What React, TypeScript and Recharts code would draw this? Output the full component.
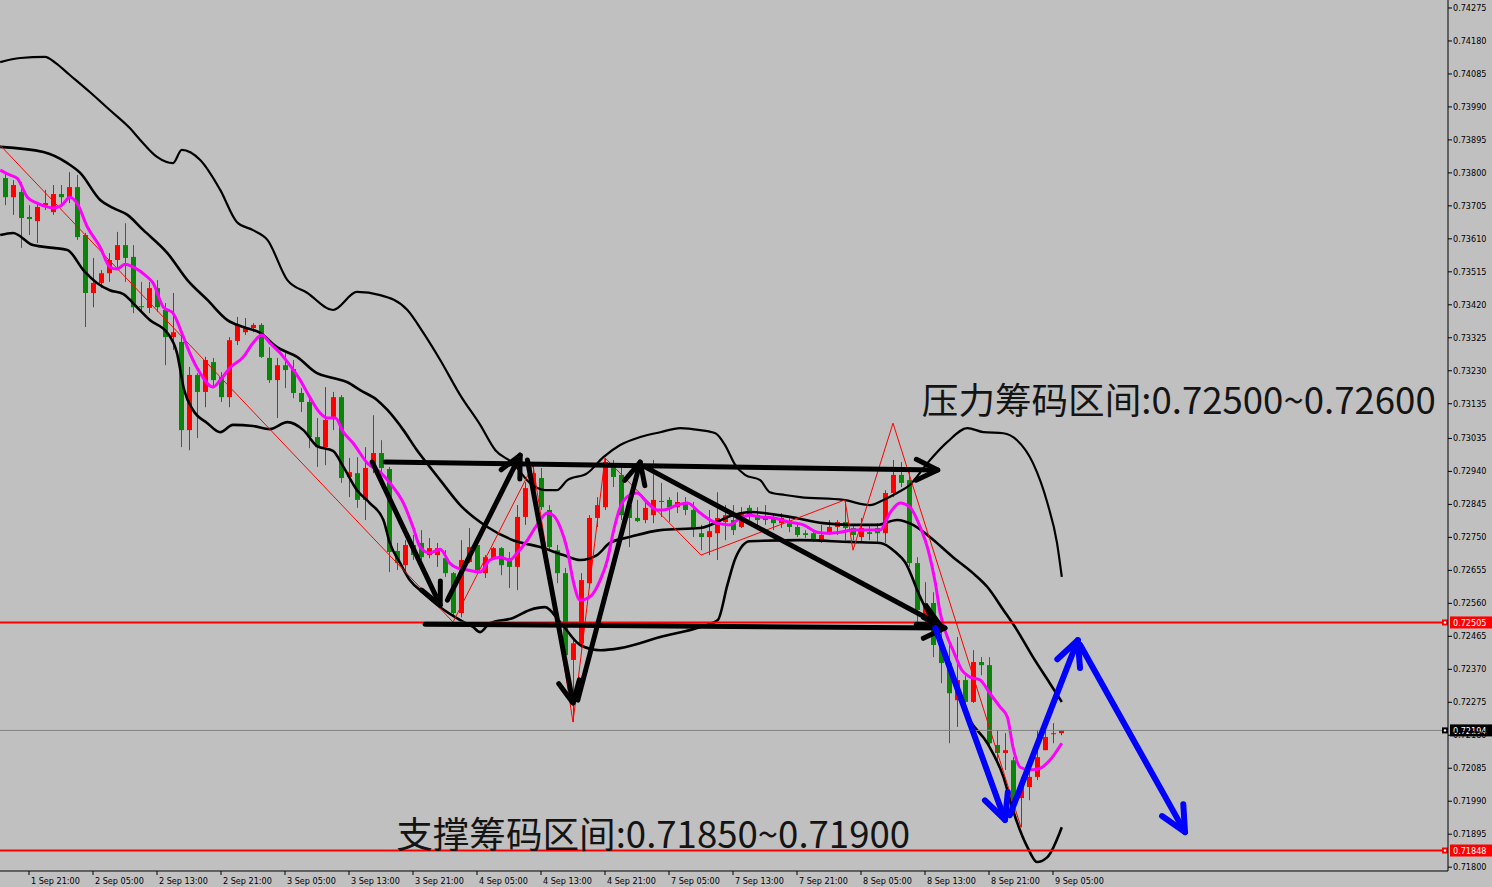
import React from 'react';
import { ComposedChart, Bar, Line, XAxis, YAxis, ReferenceLine, ReferenceDot } from 'recharts';

// ---------- candle data (hourly, 1 Sep 18:00 .. 9 Sep 06:00) ----------
const candleOpen = [
  0.73785, 0.73730, 0.73745, 0.73673, 0.73661, 0.73707, 0.73687, 0.73739, 0.73730, 0.73759,
  0.73621, 0.73454, 0.73483, 0.73511, 0.73549, 0.73592, 0.73558, 0.73416, 0.73411, 0.73468,
  0.73405, 0.73327, 0.73313, 0.73059, 0.73218, 0.73169, 0.73255, 0.73212, 0.73154, 0.73316,
  0.73341, 0.73353, 0.73362, 0.73267, 0.73203, 0.73246, 0.73235, 0.73166, 0.73140, 0.73039,
  0.73010, 0.73097, 0.73154, 0.72924, 0.72935, 0.72858, 0.72950, 0.72993, 0.72947, 0.72711,
  0.72670, 0.72728, 0.72734, 0.72699, 0.72699, 0.72690, 0.72647, 0.72532, 0.72679, 0.72728,
  0.72647, 0.72690, 0.72719, 0.72690, 0.72665, 0.72809, 0.72886, 0.72921, 0.72829, 0.72713,
  0.72647, 0.72397, 0.72445, 0.72618, 0.72806, 0.72837, 0.72958, 0.72930, 0.72843, 0.72806,
  0.72800, 0.72814, 0.72855, 0.72858, 0.72837, 0.72849, 0.72829, 0.72762, 0.72751, 0.72762,
  0.72794, 0.72800, 0.72780, 0.72835, 0.72814, 0.72809, 0.72803, 0.72791, 0.72791, 0.72780,
  0.72762, 0.72762, 0.72737, 0.72765, 0.72780, 0.72794, 0.72777, 0.72751, 0.72765, 0.72777,
  0.72762, 0.72878, 0.72930, 0.72915, 0.72676, 0.72520, 0.72561, 0.72440, 0.72388, 0.72281,
  0.72339, 0.72276, 0.72391, 0.72382, 0.72152, 0.72129, 0.72108, 0.71999, 0.72031, 0.72060,
  0.72137, 0.72183, 0.72186,
];
const candleHigh = [
  0.73800, 0.73779, 0.73774, 0.73707, 0.73713, 0.73751, 0.73765, 0.73765, 0.73802, 0.73794,
  0.73627, 0.73555, 0.73520, 0.73569, 0.73630, 0.73655, 0.73592, 0.73486, 0.73486, 0.73491,
  0.73425, 0.73454, 0.73339, 0.73241, 0.73223, 0.73270, 0.73267, 0.73226, 0.73327, 0.73385,
  0.73382, 0.73367, 0.73367, 0.73298, 0.73267, 0.73281, 0.73261, 0.73180, 0.73151, 0.73094,
  0.73183, 0.73169, 0.73160, 0.72979, 0.72981, 0.73010, 0.73102, 0.73030, 0.72953, 0.72734,
  0.72742, 0.72757, 0.72771, 0.72748, 0.72734, 0.72713, 0.72650, 0.72742, 0.72777, 0.72734,
  0.72699, 0.72722, 0.72722, 0.72708, 0.72843, 0.72909, 0.72958, 0.72950, 0.72843, 0.72728,
  0.72662, 0.72463, 0.72647, 0.72814, 0.72866, 0.72979, 0.72973, 0.72958, 0.72872, 0.72858,
  0.72858, 0.72973, 0.72907, 0.72866, 0.72880, 0.72866, 0.72852, 0.72786, 0.72829, 0.72880,
  0.72843, 0.72843, 0.72837, 0.72843, 0.72837, 0.72843, 0.72820, 0.72820, 0.72806, 0.72794,
  0.72771, 0.72765, 0.72786, 0.72800, 0.72800, 0.72858, 0.72786, 0.72806, 0.72786, 0.72791,
  0.72886, 0.72973, 0.72967, 0.72938, 0.72693, 0.72621, 0.72592, 0.72503, 0.72445, 0.72463,
  0.72353, 0.72425, 0.72405, 0.72405, 0.72195, 0.72186, 0.72117, 0.72060, 0.72100, 0.72195,
  0.72215, 0.72215, 0.72195,
];
const candleLow = [
  0.73707, 0.73679, 0.73584, 0.73621, 0.73598, 0.73693, 0.73679, 0.73707, 0.73713, 0.73607,
  0.73356, 0.73413, 0.73468, 0.73486, 0.73520, 0.73486, 0.73396, 0.73396, 0.73396, 0.73399,
  0.73246, 0.73290, 0.73010, 0.73001, 0.73036, 0.73125, 0.73180, 0.73140, 0.73125, 0.73304,
  0.73333, 0.73341, 0.73267, 0.73195, 0.73094, 0.73180, 0.73151, 0.73111, 0.73007, 0.72953,
  0.72958, 0.73059, 0.72907, 0.72866, 0.72835, 0.72800, 0.72935, 0.72935, 0.72650, 0.72656,
  0.72647, 0.72685, 0.72685, 0.72690, 0.72665, 0.72636, 0.72520, 0.72520, 0.72676, 0.72647,
  0.72633, 0.72685, 0.72641, 0.72604, 0.72598, 0.72786, 0.72872, 0.72829, 0.72713, 0.72618,
  0.72397, 0.72218, 0.72431, 0.72604, 0.72780, 0.72829, 0.72895, 0.72800, 0.72722, 0.72794,
  0.72791, 0.72791, 0.72809, 0.72794, 0.72820, 0.72814, 0.72751, 0.72713, 0.72699, 0.72685,
  0.72742, 0.72757, 0.72777, 0.72800, 0.72771, 0.72786, 0.72771, 0.72777, 0.72765, 0.72751,
  0.72748, 0.72737, 0.72734, 0.72757, 0.72757, 0.72742, 0.72742, 0.72734, 0.72742, 0.72734,
  0.72734, 0.72866, 0.72895, 0.72665, 0.72503, 0.72492, 0.72405, 0.72330, 0.72157, 0.72204,
  0.72273, 0.72273, 0.72353, 0.72146, 0.72100, 0.72080, 0.71985, 0.71915, 0.71993, 0.72051,
  0.72137, 0.72157, 0.72180,
];
const candleClose = [
  0.73730, 0.73765, 0.73670, 0.73667, 0.73702, 0.73713, 0.73739, 0.73730, 0.73759, 0.73615,
  0.73454, 0.73483, 0.73511, 0.73549, 0.73592, 0.73555, 0.73413, 0.73413, 0.73468, 0.73413,
  0.73327, 0.73341, 0.73059, 0.73218, 0.73169, 0.73261, 0.73203, 0.73154, 0.73318, 0.73362,
  0.73353, 0.73362, 0.73270, 0.73203, 0.73246, 0.73232, 0.73166, 0.73140, 0.73039, 0.73010,
  0.73088, 0.73154, 0.72921, 0.72938, 0.72858, 0.72950, 0.72993, 0.72950, 0.72708, 0.72676,
  0.72728, 0.72699, 0.72693, 0.72719, 0.72719, 0.72647, 0.72532, 0.72685, 0.72722, 0.72656,
  0.72693, 0.72719, 0.72670, 0.72665, 0.72809, 0.72892, 0.72935, 0.72837, 0.72722, 0.72647,
  0.72411, 0.72445, 0.72627, 0.72806, 0.72843, 0.72967, 0.72924, 0.72814, 0.72806, 0.72797,
  0.72835, 0.72858, 0.72852, 0.72837, 0.72852, 0.72829, 0.72777, 0.72751, 0.72768, 0.72806,
  0.72814, 0.72771, 0.72823, 0.72814, 0.72800, 0.72800, 0.72791, 0.72806, 0.72780, 0.72757,
  0.72757, 0.72745, 0.72757, 0.72780, 0.72794, 0.72777, 0.72757, 0.72777, 0.72760, 0.72762,
  0.72878, 0.72930, 0.72907, 0.72676, 0.72541, 0.72561, 0.72440, 0.72388, 0.72301, 0.72339,
  0.72276, 0.72391, 0.72382, 0.72157, 0.72129, 0.72137, 0.71993, 0.72042, 0.72060, 0.72117,
  0.72175, 0.72186, 0.72194,
];

// ---------- indicator lines: [bar index, price] ----------
const bbUpper: [number, number][] = [
  [-0.6, 0.74119], [1.9, 0.74131], [5, 0.74134], [6.3, 0.74117], [8.1, 0.74082], [10.6, 0.74033],
  [13.1, 0.73981], [15.6, 0.73929], [16.9, 0.73895], [19, 0.73846], [21, 0.73828], [22.1, 0.73866],
  [24.4, 0.73837], [26.9, 0.73751], [29, 0.73658], [31, 0.73635], [32.8, 0.73607], [35.3, 0.73491],
  [37.8, 0.73454], [41, 0.73405], [44, 0.73457], [46.9, 0.73448], [50.3, 0.73405], [52.3, 0.73339],
  [54.4, 0.73261], [56.9, 0.73160], [59.4, 0.73074], [61.3, 0.73001], [63.5, 0.72964], [65.6, 0.72907],
  [67.5, 0.72886], [69, 0.72886], [70.3, 0.72915], [72.8, 0.72935], [74.8, 0.72981], [76.9, 0.73016],
  [79.4, 0.73039], [81.9, 0.73053], [84.4, 0.73065], [86.9, 0.73059], [88.8, 0.73050], [90, 0.73016],
  [91.3, 0.72958], [92.5, 0.72930], [94.4, 0.72915], [95.6, 0.72880], [97.5, 0.72872], [99.4, 0.72866],
  [104.8, 0.72858], [108.1, 0.72843], [109.8, 0.72858], [111.5, 0.72878], [113.1, 0.72901], [115.3, 0.72964],
  [117.8, 0.73025], [120.3, 0.73065], [122.3, 0.73053], [124.8, 0.73050], [126.5, 0.73030], [128.5, 0.72964],
  [130.3, 0.72849], [131.5, 0.72734], [132.1, 0.72636],
];
const bbMiddle: [number, number][] = [
  [-0.6, 0.73875], [4.8, 0.73860], [7.8, 0.73828], [9.4, 0.73800], [11.9, 0.73722], [13.5, 0.73699],
  [15.3, 0.73679], [17.3, 0.73635], [20.3, 0.73569], [22.8, 0.73491], [25.3, 0.73434], [27.8, 0.73376],
  [29.8, 0.73356], [31.9, 0.73339], [34, 0.73298], [36.5, 0.73270], [39, 0.73223], [41, 0.73209],
  [42.8, 0.73197], [44.4, 0.73174], [46.5, 0.73146], [47.8, 0.73117], [49.8, 0.73059], [51.5, 0.73001],
  [53.1, 0.72953], [54.4, 0.72915], [56.9, 0.72843], [60.3, 0.72780], [63.5, 0.72742], [66.9, 0.72722],
  [69.8, 0.72699], [71.9, 0.72685], [74, 0.72699], [75.6, 0.72734], [78.1, 0.72751], [81.9, 0.72771],
  [86.9, 0.72777], [91, 0.72814], [93.1, 0.72823], [98.1, 0.72809], [102.3, 0.72791], [105.6, 0.72786],
  [109, 0.72786], [111.5, 0.72800], [113.5, 0.72786], [115.6, 0.72751], [118.5, 0.72693], [121, 0.72647],
  [122.8, 0.72607], [124.8, 0.72541], [126.5, 0.72483], [128.5, 0.72405], [130.6, 0.72330], [132.1, 0.72276],
];
const bbLower: [number, number][] = [
  [-0.6, 0.73621], [1, 0.73627], [3.5, 0.73592], [6, 0.73584], [7.8, 0.73578], [9.8, 0.73520],
  [11.5, 0.73483], [13.1, 0.73462], [14.8, 0.73451], [16.5, 0.73413], [18.1, 0.73376], [20.3, 0.73339],
  [21.5, 0.73281], [22.4, 0.73174], [23.5, 0.73117], [25.3, 0.73079], [26.9, 0.73053], [28.5, 0.73074],
  [31, 0.73071], [33.1, 0.73062], [35.3, 0.73082], [37.3, 0.73059], [39, 0.73013], [41, 0.72999],
  [42.3, 0.72953], [44, 0.72886], [45.6, 0.72849], [47.3, 0.72800], [48.1, 0.72734], [49.4, 0.72676],
  [50.6, 0.72627], [52.3, 0.72590], [54.4, 0.72549], [56.9, 0.72512], [58.5, 0.72492], [59.4, 0.72477],
  [60.6, 0.72503], [63.5, 0.72518], [65.6, 0.72541], [67.5, 0.72549], [69.4, 0.72506], [71.9, 0.72440],
  [74.4, 0.72425], [76.9, 0.72431], [81.9, 0.72463], [86.9, 0.72492], [89.1, 0.72512], [90.3, 0.72613],
  [91.3, 0.72690], [93.1, 0.72739], [99.4, 0.72742], [105.6, 0.72737], [109.4, 0.72734], [111.3, 0.72708],
  [112.5, 0.72679], [114.4, 0.72578], [115.6, 0.72520], [118.1, 0.72368], [120.6, 0.72224], [122.8, 0.72157],
  [124.8, 0.72060], [126, 0.71964], [127.8, 0.71858], [129, 0.71815], [130.3, 0.71829], [132.1, 0.71915],
];
const maLine: [number, number][] = [
  [-0.6, 0.73808], [0.6, 0.73794], [1.5, 0.73785], [2.8, 0.73730], [4, 0.73713], [5.3, 0.73702],
  [6, 0.73699], [7.1, 0.73707], [8.1, 0.73730], [9, 0.73713], [10.3, 0.73644], [11.9, 0.73586],
  [13.1, 0.73529], [14, 0.73523], [15, 0.73537], [16, 0.73529], [17.8, 0.73500], [18.5, 0.73483],
  [19.8, 0.73413], [21, 0.73396], [22.1, 0.73339], [23.1, 0.73281], [24.4, 0.73223], [26, 0.73183],
  [26.9, 0.73203], [28.1, 0.73238], [29.8, 0.73270], [31, 0.73310], [32.1, 0.73333], [33.1, 0.73310],
  [34.4, 0.73281], [35.6, 0.73246], [36.9, 0.73203], [38.1, 0.73154], [39.4, 0.73108], [40.3, 0.73094],
  [41.3, 0.73094], [42.3, 0.73053], [43.5, 0.73022], [45.3, 0.72964], [46.9, 0.72938], [48.1, 0.72907],
  [49.8, 0.72849], [51, 0.72780], [51.9, 0.72722], [53.1, 0.72705], [54.4, 0.72716], [55.6, 0.72676],
  [56.5, 0.72662], [57.8, 0.72656], [59.4, 0.72650], [60.6, 0.72685], [61.9, 0.72693], [63.1, 0.72685],
  [64, 0.72705], [65.3, 0.72742], [66.5, 0.72786], [67.8, 0.72820], [68.5, 0.72814], [69.4, 0.72780],
  [70.3, 0.72713], [71, 0.72627], [71.9, 0.72569], [73.1, 0.72578], [74.4, 0.72627], [75.3, 0.72685],
  [76, 0.72762], [76.9, 0.72837], [78.1, 0.72872], [79, 0.72878], [80.3, 0.72849], [81.5, 0.72829],
  [82.3, 0.72829], [84, 0.72843], [85.3, 0.72849], [86.9, 0.72820], [89, 0.72791], [90.6, 0.72786],
  [91.9, 0.72806], [93.1, 0.72814], [94.4, 0.72809], [96, 0.72806], [98.1, 0.72794], [99.8, 0.72786],
  [101.5, 0.72765], [102.8, 0.72762], [104.4, 0.72765], [106, 0.72771], [109.4, 0.72771], [110.6, 0.72820],
  [111.9, 0.72849], [113.1, 0.72837], [114.4, 0.72780], [115.4, 0.72713], [116.3, 0.72618], [116.9, 0.72532],
  [117.8, 0.72463], [118.5, 0.72425], [119.6, 0.72368], [120.6, 0.72348], [121.9, 0.72339], [123.1, 0.72301],
  [124.4, 0.72261], [125.3, 0.72232], [126, 0.72146], [126.9, 0.72088], [128.1, 0.72080], [129.4, 0.72085],
  [130.6, 0.72108], [132.1, 0.72157],
];
const zigzag: [number, number][] = [
  [-1, 0.73889], [56, 0.72506], [66, 0.72958], [71, 0.72218], [75, 0.72979], [87, 0.72699],
  [105, 0.72858], [106, 0.72713], [111, 0.73079], [127, 0.71915],
];

// ---------- annotations (bar index, price) ----------
const blackArrows: [number, number, number, number][] = [
  [45.9, 0.72967, 54.4, 0.72555],
  [55.3, 0.72569, 64.4, 0.72987],
  [65.3, 0.72973, 71.0, 0.72273],
  [71.6, 0.72281, 79.4, 0.72967],
  [80.0, 0.72953, 116.9, 0.72497],
  [47.5, 0.72967, 116.6, 0.72944],
  [52.5, 0.72500, 117.5, 0.72489],
];
const blueArrows: [number, number, number, number][] = [
  [116.3, 0.72489, 125.0, 0.71936],
  [125.6, 0.71950, 134.1, 0.72454],
  [134.4, 0.72440, 147.5, 0.71901],
];
const resistanceText = '压力筹码区间:0.72500~0.72600';
const supportText = '支撑筹码区间:0.71850~0.71900';
const resistanceAnchor = { i: 114.6, p: 0.73105 };
const supportAnchor = { i: 48.9, p: 0.71855 };

const resistanceLevel = 0.72505;
const supportLevel = 0.71848;
const currentPrice = 0.72194;

// ---------- axes ----------
const yTicks = [
  0.74275, 0.74180, 0.74085, 0.73990, 0.73895, 0.73800, 0.73705, 0.73610, 0.73515, 0.73420,
  0.73325, 0.73230, 0.73135, 0.73035, 0.72940, 0.72845, 0.72750, 0.72655, 0.72560, 0.72465,
  0.72370, 0.72275, 0.72180, 0.72085, 0.71990, 0.71895, 0.71800,
];
const xTickIdx = [3, 11, 19, 27, 35, 43, 51, 59, 67, 75, 83, 91, 99, 107, 115, 123, 131];
const xTickLabels = [
  '1 Sep 21:00', '2 Sep 05:00', '2 Sep 13:00', '2 Sep 21:00', '3 Sep 05:00', '3 Sep 13:00',
  '3 Sep 21:00', '4 Sep 05:00', '4 Sep 13:00', '4 Sep 21:00', '7 Sep 05:00', '7 Sep 13:00',
  '7 Sep 21:00', '8 Sep 05:00', '8 Sep 13:00', '8 Sep 21:00', '9 Sep 05:00',
];

const candles = candleOpen.map((o, i) => ({
  i, o, h: candleHigh[i], l: candleLow[i], c: candleClose[i],
}));
const toPts = (arr: [number, number][]) => arr.map(([i, v]) => ({ i, v }));

const AXIS_FONT = "Tahoma, 'DejaVu Sans Condensed', 'Liberation Sans', Arial, sans-serif";
const RED = '#FF0000';
const GREEN = '#0A850A';

const Candle = (props: any) => {
  const { x, y, width, height, payload } = props;
  if (!payload || height == null) return null;
  const { o, h, l, c } = payload;
  const span = h - l || 1e-9;
  const py = (v: number) => y + ((h - v) / span) * height;
  const cx = Math.round(x + width / 2);
  const up = c >= o;
  const color = up ? RED : GREEN;
  const top = py(Math.max(o, c));
  const bot = py(Math.min(o, c));
  const bh = Math.max(1, bot - top);
  return (
    <g>
      <line x1={cx + 0.5} x2={cx + 0.5} y1={y} y2={y + height} stroke={color} strokeWidth={1} />
      <rect x={cx - 2} y={top} width={5} height={bh} fill={color} />
    </g>
  );
};

const makeArrow = (color: string, w: number, head: number) => (p: any) => {
  const { x1, y1, x2, y2 } = p;
  if (x1 == null) return null;
  const ang = Math.atan2(y2 - y1, x2 - x1);
  const a1 = ang + Math.PI - 0.45;
  const a2 = ang + Math.PI + 0.45;
  return (
    <g>
      <line x1={x1} y1={y1} x2={x2} y2={y2} stroke={color} strokeWidth={w} strokeLinecap="round" />
      <polyline
        points={`${x2 + head * Math.cos(a1)},${y2 + head * Math.sin(a1)} ${x2},${y2} ${x2 + head * Math.cos(a2)},${y2 + head * Math.sin(a2)}`}
        fill="none" stroke={color} strokeWidth={w} strokeLinecap="round" strokeLinejoin="round"
      />
    </g>
  );
};
const blackArrow = makeArrow('#000000', 5, 24);
const blueArrow = makeArrow('#0000FF', 6, 28);

const textShape = (label: string) => (p: any) => (
  <text x={p.cx} y={p.cy} fontSize={36.6} fill="#141414" textAnchor="start"
    fontFamily="'Noto Sans CJK SC', 'Noto Sans', sans-serif">{label}</text>
);

const priceTag = (value: number, bg: string) => (p: any) => {
  const vb = p.viewBox || {};
  const right = (vb.x || 0) + (vb.width || 0);
  const yy = vb.y || 0;
  return (
    <g>
      <rect x={right - 6} y={yy - 3} width={6} height={6} fill={bg} />
      <circle cx={right - 3} cy={yy} r={1.2} fill="#fff" />
      <rect x={right + 2} y={yy - 6} width={44} height={12} fill={bg} />
      <text x={right + 5} y={yy + 3.5} fontSize={9} fill="#fff" fontFamily={AXIS_FONT}>{value.toFixed(5)}</text>
    </g>
  );
};

const XTick = (props: any) => {
  const { x, y, payload } = props;
  const k = xTickIdx.indexOf(payload.value);
  if (k < 0) return null;
  return (
    <text x={x + 2} y={y + 9} fontSize={9} fill="#000" textAnchor="start" fontFamily={AXIS_FONT}>
      {xTickLabels[k]}
    </text>
  );
};
const YTick = (props: any) => {
  const { x, y, payload } = props;
  return (
    <text x={x} y={y + 3} fontSize={9} fill="#000" textAnchor="start" fontFamily={AXIS_FONT}>
      {Number(payload.value).toFixed(5)}
    </text>
  );
};

export default function App() {
  return (
    <div style={{ position: 'absolute', left: 0, top: 0, width: 1492, height: 887, background: '#C0C0C0' }}>
      <ComposedChart width={1492} height={887} data={candles} margin={{ top: 0, right: 0, bottom: 0, left: 0 }}>
        <XAxis
          dataKey="i" type="number" domain={[-0.625, 180.375]} allowDataOverflow
          ticks={xTickIdx} interval={0} tick={<XTick />} tickSize={4} tickMargin={0}
          height={16} stroke="#000" tickLine={{ stroke: '#000' }} axisLine={{ stroke: '#000' }}
        />
        <YAxis
          orientation="right" type="number" domain={[0.71789, 0.74298]} allowDataOverflow
          ticks={yTicks} interval={0} tick={<YTick />} tickSize={4} tickMargin={1}
          width={44} stroke="#000" tickLine={{ stroke: '#000' }} axisLine={{ stroke: '#000' }}
        />
        <Line data={toPts(bbUpper)} dataKey="v" type="monotone" stroke="#000" strokeWidth={2.2} dot={false} activeDot={false} isAnimationActive={false} />
        <Line data={toPts(bbMiddle)} dataKey="v" type="monotone" stroke="#000" strokeWidth={2.6} dot={false} activeDot={false} isAnimationActive={false} />
        <Line data={toPts(bbLower)} dataKey="v" type="monotone" stroke="#000" strokeWidth={2.6} dot={false} activeDot={false} isAnimationActive={false} />
        <Line data={toPts(zigzag)} dataKey="v" type="linear" stroke={RED} strokeWidth={1} dot={false} activeDot={false} isAnimationActive={false} />
        <Bar dataKey={(d: any) => [d.l, d.h]} barSize={6} shape={<Candle />} activeBar={false} isAnimationActive={false} />
        <Line data={toPts(maLine)} dataKey="v" type="monotone" stroke="#FF00FF" strokeWidth={3} dot={false} activeDot={false} isAnimationActive={false} />
        <ReferenceLine y={currentPrice} stroke="#808080" strokeWidth={1} label={priceTag(currentPrice, '#000000')} />
        <ReferenceLine y={resistanceLevel} stroke={RED} strokeWidth={2} label={priceTag(resistanceLevel, RED)} />
        <ReferenceLine y={supportLevel} stroke={RED} strokeWidth={2} label={priceTag(supportLevel, RED)} />
        {blackArrows.map((a, k) => (
          <ReferenceLine key={'ba' + k} segment={[{ x: a[0], y: a[1] }, { x: a[2], y: a[3] }]} ifOverflow="visible" shape={blackArrow} />
        ))}
        {blueArrows.map((a, k) => (
          <ReferenceLine key={'bl' + k} segment={[{ x: a[0], y: a[1] }, { x: a[2], y: a[3] }]} ifOverflow="visible" shape={blueArrow} />
        ))}
        <ReferenceDot x={resistanceAnchor.i} y={resistanceAnchor.p} r={1} ifOverflow="visible" shape={textShape(resistanceText)} />
        <ReferenceDot x={supportAnchor.i} y={supportAnchor.p} r={1} ifOverflow="visible" shape={textShape(supportText)} />
      </ComposedChart>
    </div>
  );
}
